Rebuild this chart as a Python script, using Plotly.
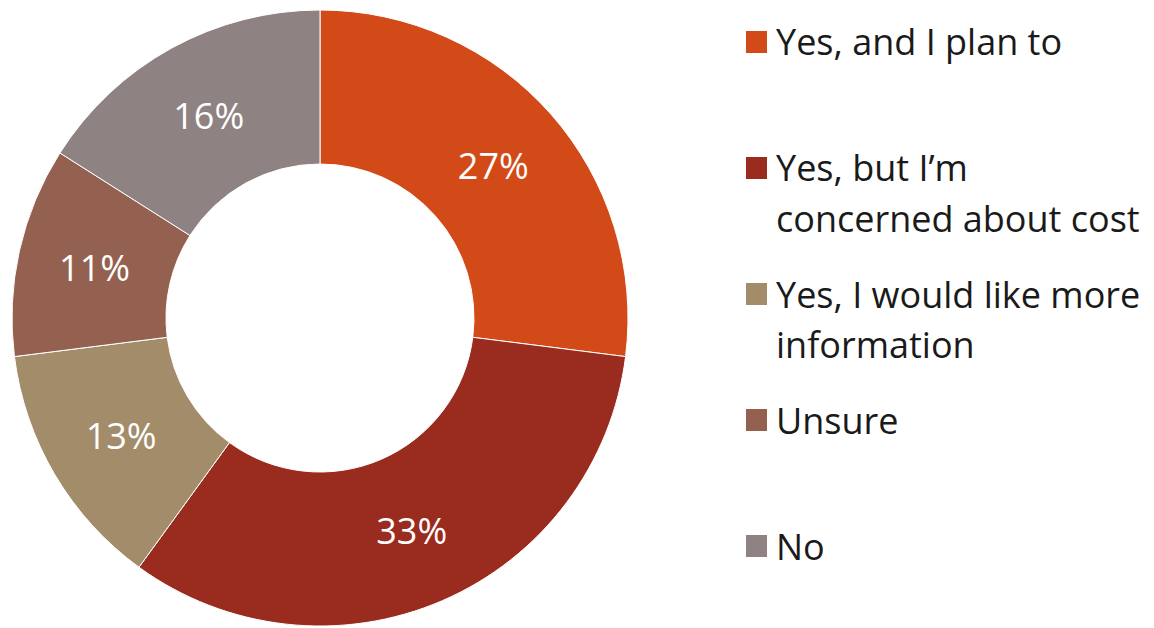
import plotly.graph_objects as go

labels = ["Yes, and I plan to", "Yes, but I’m<br>concerned about cost",
          "Yes, I would like more<br>information", "Unsure", "No"]
values = [27, 33, 13, 11, 16]
colors = ["#D24A18", "#9A2B1F", "#A38C69", "#946150", "#8F8282"]

W, H = 1154, 628
FONT = "Open Sans"

fig = go.Figure()
fig.add_trace(go.Pie(
    labels=labels, values=values, hole=0.5, sort=False, direction="clockwise",
    rotation=0,
    marker=dict(colors=colors, line=dict(color="white", width=1)),
    textinfo="percent", texttemplate="%{percent:.0%}",
    textposition="inside", insidetextorientation="horizontal",
    textfont=dict(family=FONT, size=36, color="white"),
    domain=dict(x=[12 / W, 628 / W], y=[1 - 626 / H, 1 - 10 / H]),
    showlegend=False, hoverinfo="label+percent",
))

# Legend drawn as shapes + annotations
marker_y0 = 42
step = 126
line_gap = 50
for i, (lab, col) in enumerate(zip(labels, colors)):
    cy = marker_y0 + i * step
    fig.add_shape(type="rect", xref="paper", yref="paper",
                  x0=746 / W, x1=767 / W,
                  y0=1 - (cy + 11) / H, y1=1 - (cy - 11) / H,
                  fillcolor=col, line=dict(width=0))
    for j, line in enumerate(lab.split("<br>")):
        ly = cy + j * line_gap
        fig.add_annotation(x=774 / W, y=1 - ly / H, xref="paper", yref="paper",
                           text=line, showarrow=False, xanchor="left", yanchor="middle",
                           font=dict(family=FONT, size=36, color="#1a1a1a"))

fig.update_layout(width=W, height=H, margin=dict(l=0, r=0, t=0, b=0),
                  paper_bgcolor="white", plot_bgcolor="white")
fig.write_html("out.html")
